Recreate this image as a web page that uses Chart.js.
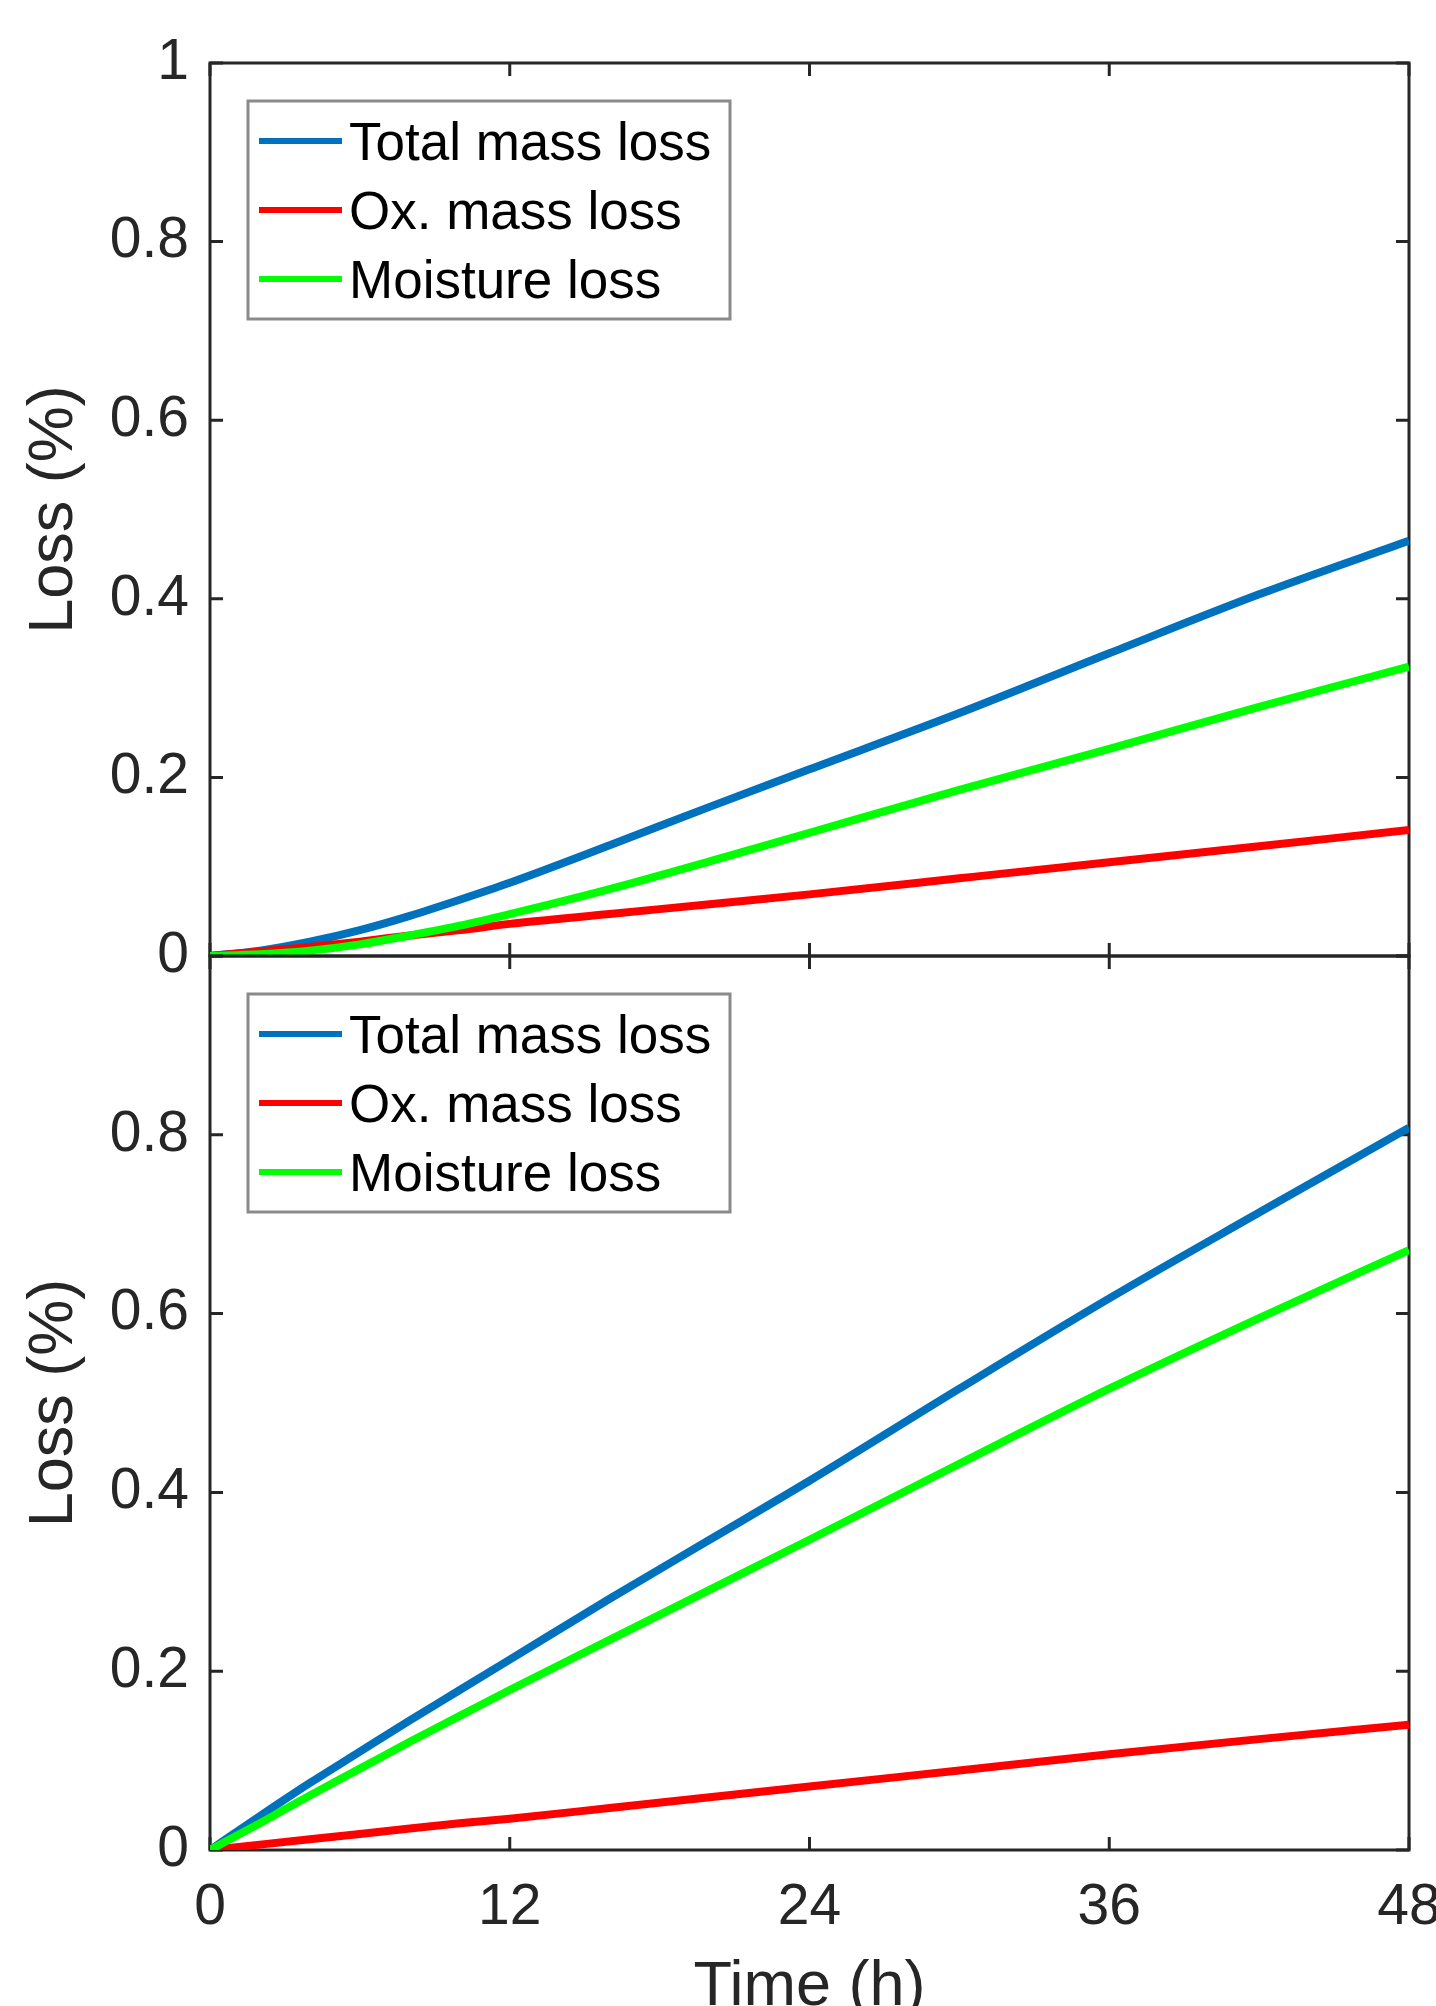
<!DOCTYPE html>
<html>
<head>
<meta charset="utf-8">
<script src="https://cdn.jsdelivr.net/npm/chart.js@4/dist/chart.umd.min.js"></script>
<style>
  html, body { margin: 0; padding: 0; background: #fff; overflow: hidden; width: 1436px; height: 2006px; }
  canvas { position: absolute; left: 0; }
  #topChart { top: 0; }
  #bottomChart { top: 896px; }
</style>
</head>
<body>
<canvas id="topChart" width="1500" height="1013"></canvas>
<canvas id="bottomChart" width="1500" height="1200"></canvas>
<script>
// time in hours
const times = [0, 2, 4, 6, 8, 10, 12, 16, 20, 24, 30, 36, 42, 48]
const xTicks = [0, 12, 24, 36, 48]
const yTicks = [0, 0.2, 0.4, 0.6, 0.8, 1]

const seriesNames = ["Total mass loss", "Ox. mass loss", "Moisture loss"]
const seriesColors = ["#0072BD", "#FF0000", "#00FF00"]

// top panel
const topTotal = [0, 0.006, 0.016, 0.029, 0.045, 0.063, 0.082, 0.124, 0.167, 0.209, 0.272, 0.339, 0.405, 0.465]
const topOx = [0, 0.005, 0.010, 0.016, 0.023, 0.029, 0.036, 0.047, 0.058, 0.069, 0.087, 0.105, 0.123, 0.141]
const topMoist = [0, 0.002, 0.006, 0.013, 0.023, 0.034, 0.047, 0.075, 0.106, 0.138, 0.186, 0.232, 0.279, 0.324]

// bottom panel
const botTotal = [0, 0.038, 0.075, 0.110, 0.145, 0.179, 0.213, 0.281, 0.347, 0.413, 0.516, 0.617, 0.713, 0.808]
const botOx = [0, 0.006, 0.012, 0.018, 0.024, 0.030, 0.035, 0.047, 0.059, 0.071, 0.089, 0.107, 0.124, 0.140]
const botMoist = [0, 0.030, 0.061, 0.091, 0.121, 0.150, 0.179, 0.235, 0.291, 0.347, 0.432, 0.516, 0.595, 0.671]

const FONT = '"Liberation Sans", Arial, Helvetica, sans-serif'
Chart.defaults.font.family = FONT
Chart.defaults.color = "#262626"

function makeDatasets(values) {
    // total drawn first, moisture on top
    return values.map((vals, i) => ({
        label: seriesNames[i],
        data: times.map((t, j) => ({ x: t, y: vals[j] })),
        borderColor: seriesColors[i],
        backgroundColor: seriesColors[i],
        borderWidth: 8,
        pointRadius: 0,
        fill: false,
        cubicInterpolationMode: 'monotone',
        order: values.length - i
    }))
}

// box + inward ticks, under the lines
const axesBox = {
    id: 'axesBox',
    beforeDatasetsDraw(chart) {
        const { ctx, chartArea: a, scales: { x, y } } = chart
        const len = 13
        ctx.save()
        ctx.strokeStyle = "#262626"
        ctx.lineWidth = 3
        ctx.strokeRect(a.left, a.top, a.right - a.left, a.bottom - a.top)
        ctx.beginPath()
        xTicks.forEach(v => {
            const px = x.getPixelForValue(v)
            ctx.moveTo(px, a.bottom); ctx.lineTo(px, a.bottom - len)
            ctx.moveTo(px, a.top); ctx.lineTo(px, a.top + len)
        })
        yTicks.forEach(v => {
            const py = y.getPixelForValue(v)
            ctx.moveTo(a.left, py); ctx.lineTo(a.left + len, py)
            ctx.moveTo(a.right, py); ctx.lineTo(a.right - len, py)
        })
        ctx.stroke()
        ctx.restore()
    }
}

const legendBox = {
    id: 'legendBox',
    afterDatasetsDraw(chart) {
        const { ctx, chartArea: a } = chart
        const bx = a.left + 38, by = a.top + 38, bw = 482, bh = 218
        ctx.save()
        ctx.fillStyle = "#fff"
        ctx.fillRect(bx, by, bw, bh)
        ctx.strokeStyle = "#8a8a8a"
        ctx.lineWidth = 3
        ctx.strokeRect(bx, by, bw, bh)
        ctx.font = '53px ' + FONT
        ctx.textBaseline = 'middle'
        ctx.textAlign = 'left'
        chart.data.datasets.forEach((ds, i) => {
            const ly = by + 40 + i * 69
            ctx.strokeStyle = ds.borderColor
            ctx.lineWidth = 6
            ctx.beginPath()
            ctx.moveTo(bx + 11, ly)
            ctx.lineTo(bx + 94, ly)
            ctx.stroke()
            ctx.fillStyle = "#000"
            ctx.fillText(ds.label, bx + 101, ly + 4)
        })
        ctx.restore()
    }
}

function makeChart(id, values, isBottom) {
    const ctx = document.getElementById(id).getContext("2d")
    return new Chart(ctx, {
        type: 'line',
        data: { datasets: makeDatasets(values) },
        plugins: [axesBox, legendBox],
        options: {
            responsive: false,
            animation: false,
            devicePixelRatio: 1,
            layout: { padding: { left: 0, right: 91, top: isBottom ? 60 : 63, bottom: isBottom ? 46 : 57 } },
            plugins: { legend: { display: false }, tooltip: { enabled: false } },
            scales: {
                x: {
                    type: 'linear',
                    min: 0,
                    max: 48,
                    grid: { display: false, drawTicks: false },
                    border: { display: false },
                    ticks: {
                        display: isBottom,
                        stepSize: 12,
                        padding: 24,
                        maxRotation: 0,
                        font: { size: 57 },
                        color: "#262626"
                    },
                    title: {
                        display: isBottom,
                        text: "Time (h)",
                        font: { size: 63 },
                        color: "#262626",
                        padding: { top: 0, bottom: 25 }
                    },
                    afterFit(scale) { scale.height = isBottom ? 200 : 0 }
                },
                y: {
                    min: 0,
                    max: 1,
                    grid: { display: false, drawTicks: false },
                    border: { display: false },
                    ticks: {
                        stepSize: 0.2,
                        padding: 21,
                        font: { size: 57 },
                        color: "#262626",
                        callback: (v) => (isBottom && v === 1) ? "" : String(Math.round(v * 10) / 10)
                    },
                    title: {
                        display: true,
                        text: "Loss (%)",
                        font: { size: 63 },
                        color: "#262626",
                        padding: { top: 17, bottom: 0 }
                    },
                    afterFit(scale) { scale.width = 210 }
                }
            }
        }
    })
}

makeChart("topChart", [topTotal, topOx, topMoist], false)
makeChart("bottomChart", [botTotal, botOx, botMoist], true)
</script>
</body>
</html>
